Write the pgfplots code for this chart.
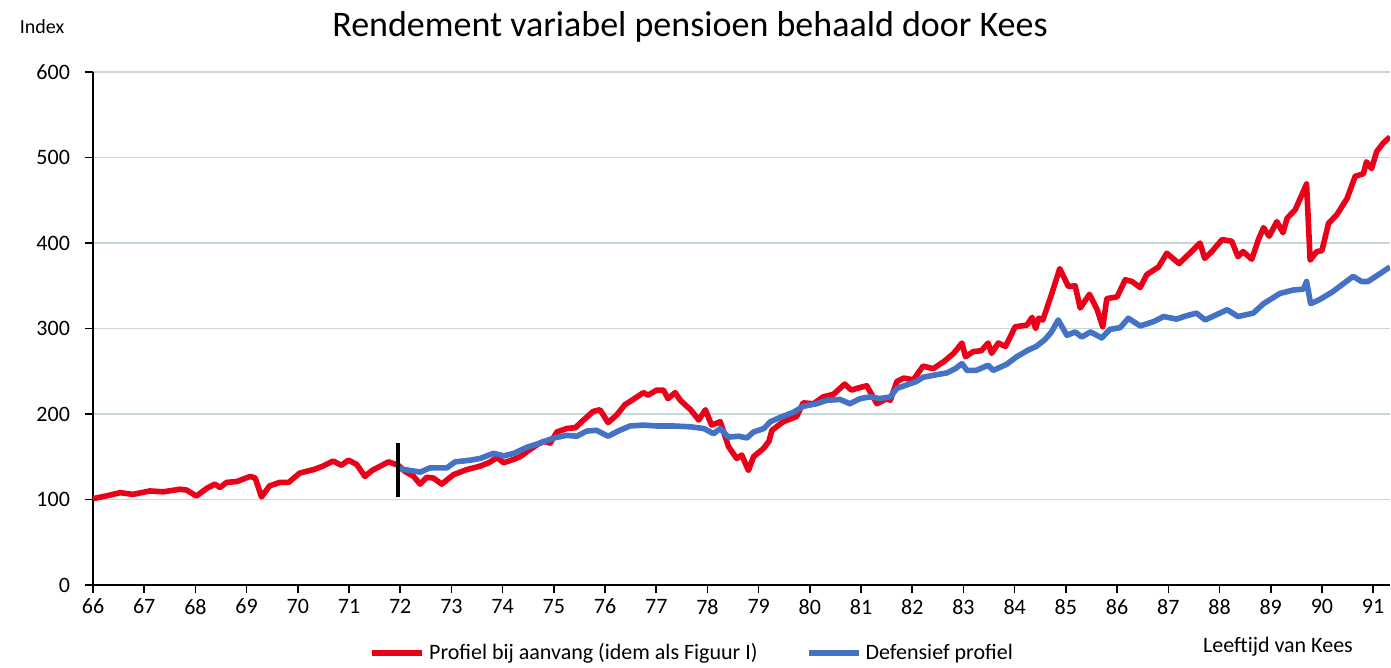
\documentclass[border=0pt]{standalone}
\usepackage{fontspec}
\setmainfont{Carlito}
\usepackage{pgfplots}
\pgfplotsset{compat=1.18}
\definecolor{redline}{RGB}{235,0,25}
\definecolor{blueline}{RGB}{68,114,196}
\definecolor{gridc}{RGB}{200,216,216}
\begin{document}
\begin{tikzpicture}
\useasboundingbox (-46.5pt,-41.5pt) rectangle (649pt,292.5pt);
\begin{axis}[
  at={(0,0)}, anchor=south west,
  scale only axis,
  width=648.5pt, height=256.5pt,
  xmin=66, xmax=91.33, ymin=0, ymax=600,
  axis lines*=left,
  axis line style={black, line width=0.9pt},
  xtick={66,67,...,91},
  ytick={0,100,...,600},
  tick align=outside,
  major tick length=4pt,
  tick style={black, line width=0.8pt},
  ymajorgrids,
  grid style={gridc, line width=0.8pt},
  tick label style={font=\fontsize{11}{13}\selectfont},
  /pgf/number format/assume math mode=true,
  xticklabel style={yshift=0.5pt},
  yticklabel style={xshift=-4pt},
  legend style={at={(0.4626,-0.133)}, anchor=center, draw=none, fill=none,
    legend columns=2, font=\fontsize{11}{13}\selectfont,
    /tikz/every even column/.append style={column sep=22pt}},
  legend image code/.code={\draw[#1, line width=3pt] (0pt,0pt) -- (25pt,0pt);},
  clip=true,
]
\addplot[redline, line width=2.8pt, line join=round] coordinates {
(66.00,101) (66.25,104) (66.53,108) (66.78,106) (67.11,110) (67.37,109) (67.70,112) (67.83,111)
(68.02,104) (68.22,113) (68.38,118) (68.48,114) (68.61,120) (68.81,121) (69.07,127) (69.17,125)
(69.29,103) (69.45,116) (69.65,120) (69.82,120) (70.04,131) (70.31,135) (70.49,139) (70.69,145)
(70.85,140) (70.99,146) (71.15,141) (71.31,127) (71.45,134) (71.58,138) (71.77,144) (71.96,140)
(72.09,133) (72.26,127) (72.39,118) (72.52,126) (72.65,125) (72.81,118) (73.04,129) (73.30,135)
(73.56,139) (73.73,143) (73.89,149) (74.02,143) (74.22,147) (74.34,150) (74.50,157) (74.67,164)
(74.80,168) (74.93,166) (75.06,179) (75.25,183) (75.42,184) (75.58,193) (75.77,203) (75.90,205)
(76.06,190) (76.23,199) (76.39,211) (76.55,217) (76.75,225) (76.84,222) (77.01,228) (77.14,228)
(77.23,218) (77.37,225) (77.47,216) (77.67,205) (77.83,193) (77.96,205) (78.08,187) (78.25,191)
(78.41,162) (78.57,148) (78.67,152) (78.80,134) (78.90,150) (79.10,160) (79.20,168) (79.26,181)
(79.48,191) (79.74,197) (79.87,213) (80.07,212) (80.26,220) (80.46,223) (80.68,235) (80.81,228)
(80.98,231) (81.11,233) (81.31,212) (81.50,218) (81.57,216) (81.70,238) (81.83,242) (82.02,240)
(82.21,256) (82.41,253) (82.61,261) (82.81,271) (82.97,283) (83.04,267) (83.19,273) (83.35,274)
(83.48,283) (83.55,271) (83.68,283) (83.82,279) (84.01,302) (84.24,304) (84.34,313) (84.41,300)
(84.47,312) (84.55,310) (84.72,340) (84.88,370) (85.05,349) (85.18,350) (85.28,324) (85.46,340)
(85.61,322) (85.72,302) (85.80,335) (86.00,337) (86.16,357) (86.29,355) (86.45,348) (86.58,363)
(86.81,372) (86.97,388) (87.21,376) (87.42,388) (87.62,400) (87.71,382) (87.85,390) (88.05,404)
(88.24,402) (88.36,384) (88.46,390) (88.63,381) (88.76,404) (88.86,418) (88.97,408) (89.12,425)
(89.24,412) (89.32,429) (89.48,439) (89.70,469) (89.77,380) (89.90,390) (90.00,391) (90.13,423)
(90.29,433) (90.49,452) (90.65,478) (90.81,481) (90.87,495) (90.97,487) (91.07,507) (91.20,517)
(91.33,524)
};
\addlegendentry{Profiel bij aanvang (idem als Figuur I)}
\addplot[blueline, line width=2.8pt, line join=round] coordinates {
(71.99,136) (72.39,132) (72.58,137) (72.91,137) (73.07,144) (73.37,146) (73.56,148) (73.82,154)
(74.02,151) (74.22,154) (74.47,161) (74.73,166) (75.00,172) (75.25,175) (75.45,174) (75.64,180)
(75.83,181) (76.06,174) (76.29,181) (76.49,186) (76.75,187) (77.01,186) (77.33,186) (77.67,185)
(77.93,183) (78.12,177) (78.25,183) (78.41,173) (78.61,174) (78.77,172) (78.90,179) (79.10,183)
(79.23,191) (79.42,196) (79.68,202) (79.87,209) (80.13,212) (80.33,216) (80.59,217) (80.78,212)
(80.98,218) (81.18,220) (81.37,218) (81.57,220) (81.70,230) (81.89,234) (82.08,238) (82.21,243)
(82.48,246) (82.67,248) (82.84,253) (82.97,259) (83.07,251) (83.25,251) (83.48,257) (83.58,251)
(83.84,258) (84.04,267) (84.27,275) (84.42,279) (84.59,287) (84.72,296) (84.85,310) (85.02,292)
(85.18,296) (85.31,290) (85.48,296) (85.70,289) (85.86,299) (86.06,301) (86.22,312) (86.45,303)
(86.71,308) (86.91,314) (87.16,311) (87.36,315) (87.55,318) (87.72,310) (88.15,322) (88.36,314)
(88.66,318) (88.86,329) (89.18,341) (89.44,345) (89.64,346) (89.70,355) (89.78,329) (89.96,334)
(90.21,343) (90.61,361) (90.77,355) (90.90,355) (91.13,364) (91.33,372)
};
\addlegendentry{Defensief profiel}
\addplot[black, line width=2pt, forget plot] coordinates {(71.96,103) (71.96,166)};
\end{axis}
\node[font=\fontsize{18}{21}\selectfont] at (298.5pt,279pt) {Rendement variabel pensioen behaald door Kees};
\node[font=\fontsize{10}{12}\selectfont] at (-25.5pt,279pt) {Index};
\node[font=\fontsize{11}{13}\selectfont] at (592.5pt,-31pt) {Leeftijd van Kees};
\end{tikzpicture}
\end{document}
